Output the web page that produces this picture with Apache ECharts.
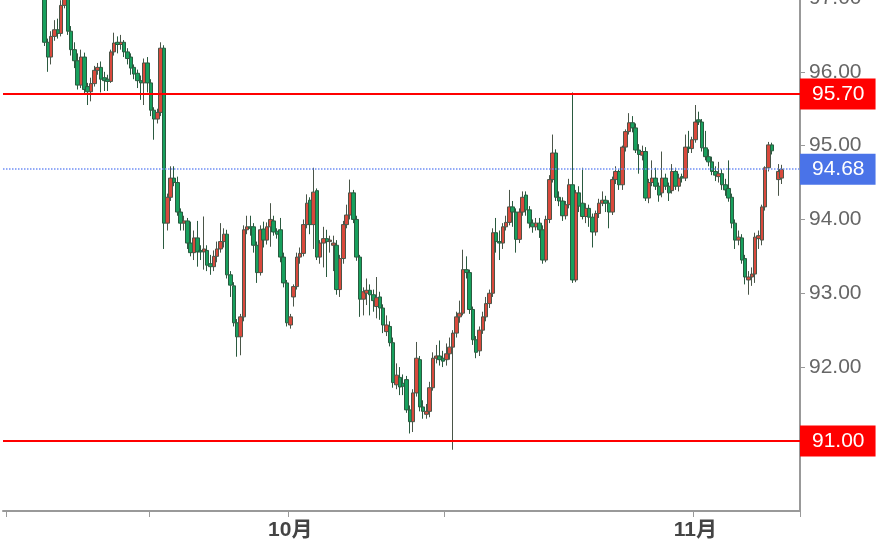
<!DOCTYPE html>
<html><head><meta charset="utf-8">
<script src="https://cdn.jsdelivr.net/npm/echarts@6.0.0/dist/echarts.min.js"></script>
<style>html,body{margin:0;padding:0;background:#fff}#c{width:890px;height:549px}</style>
</head><body><div id="c"></div>
<script>
// ---- data ----
const barCount = 240;
const firstBar = 12;
// [open, high, low, close]
const bars = [
[97.05,97.15,96.35,96.40],[96.40,96.45,96.00,96.20],[96.20,96.55,96.10,96.48],[96.48,96.70,96.42,96.57],
[96.57,96.72,96.45,96.52],[96.52,96.97,96.48,96.90],[96.90,97.10,96.86,97.02],[97.00,97.05,96.50,96.55],
[96.55,96.62,96.22,96.30],[96.30,96.40,96.05,96.15],[96.15,96.25,95.76,95.82],[95.82,96.30,95.78,96.20],
[96.20,96.26,95.70,95.76],[95.80,95.85,95.55,95.73],[95.73,95.92,95.60,95.84],[95.84,96.08,95.80,96.02],
[96.02,96.12,95.96,96.06],[96.06,96.14,95.72,95.90],[95.92,96.00,95.74,95.88],[95.90,95.96,95.74,95.87],
[95.87,96.30,95.85,96.27],[96.27,96.53,96.22,96.39],[96.40,96.48,96.25,96.37],[96.37,96.50,96.30,96.40],
[96.40,96.43,96.20,96.27],[96.27,96.32,96.10,96.18],[96.20,96.25,95.96,96.05],[96.06,96.10,95.90,95.97],
[95.98,96.03,95.78,95.88],[95.88,95.95,95.62,95.85],[95.85,96.18,95.55,96.12],[96.12,96.20,95.72,95.85],
[95.85,95.90,95.40,95.48],[95.48,95.52,95.08,95.36],[95.36,95.50,95.30,95.45],[95.45,96.40,95.40,96.32],
[96.32,96.36,93.60,93.95],[93.95,94.35,93.85,94.30],[94.30,94.72,94.25,94.56],[94.56,94.72,94.45,94.50],
[94.50,94.58,94.05,94.10],[94.10,94.15,93.85,93.95],[93.95,94.05,93.85,93.98],[93.98,94.02,93.60,93.68],
[93.68,93.97,93.50,93.55],[93.55,93.85,93.45,93.75],[93.75,93.98,93.36,93.56],[93.58,93.65,93.45,93.56],
[93.56,94.04,93.32,93.60],[93.58,93.65,93.30,93.38],[93.40,93.52,93.25,93.36],[93.36,93.58,93.30,93.50],
[93.50,93.70,93.42,93.60],[93.60,93.95,93.55,93.70],[93.70,93.88,93.62,93.80],[93.80,93.86,93.20,93.25],
[93.25,93.30,92.95,93.11],[93.10,93.15,92.55,92.60],[92.60,92.65,92.14,92.41],[92.41,92.72,92.16,92.68],
[92.68,93.92,92.62,93.86],[93.86,94.05,93.80,93.90],[93.90,94.05,93.78,93.88],[93.90,93.95,93.55,93.65],
[93.65,93.70,93.14,93.28],[93.28,93.92,93.24,93.86],[93.87,93.97,93.62,93.72],[93.72,93.96,93.66,93.90],
[93.90,94.22,93.63,94.00],[93.98,94.05,93.78,93.83],[93.84,93.88,93.74,93.80],[93.86,94.02,93.42,93.49],
[93.49,93.55,93.08,93.14],[93.14,93.18,92.55,92.60],[92.57,92.72,92.52,92.68],[92.95,93.12,92.82,93.09],
[93.09,93.55,93.05,93.49],[93.49,93.62,93.40,93.54],[93.54,94.00,93.50,93.93],[93.93,94.34,93.88,94.22],
[94.26,94.30,93.80,93.93],[93.93,94.70,93.60,94.37],[94.39,94.42,93.45,93.49],[93.49,93.72,93.40,93.68],
[93.68,93.90,93.35,93.74],[93.74,93.86,93.22,93.70],[93.70,93.78,93.55,93.72],[93.65,93.78,93.30,93.68],
[93.65,93.72,92.98,93.05],[93.05,93.52,92.95,93.47],[93.47,93.98,93.40,93.93],[93.93,94.20,93.88,94.06],
[94.06,94.54,94.00,94.36],[94.36,94.40,93.95,94.00],[94.00,94.05,93.44,93.49],[93.49,93.52,92.68,92.92],
[92.92,93.08,92.70,93.02],[93.00,93.20,92.84,93.04],[93.04,93.12,92.70,92.98],[92.98,93.05,92.75,92.90],
[92.82,93.22,92.66,92.94],[92.95,93.02,92.64,92.80],[92.80,92.85,92.46,92.57],[92.48,92.70,92.42,92.57],
[92.55,92.62,92.28,92.33],[92.33,92.40,91.72,91.79],[91.76,92.05,91.70,91.89],[91.86,92.00,91.62,91.73],
[91.78,91.90,91.62,91.74],[91.83,91.88,91.38,91.42],[91.42,91.48,91.10,91.26],[91.26,91.70,91.12,91.65],
[91.65,92.34,91.60,92.12],[92.10,92.15,91.40,91.46],[91.46,91.55,91.30,91.40],[91.36,91.50,91.30,91.40],
[91.40,91.80,91.32,91.72],[91.72,92.20,91.68,92.12],[92.12,92.30,92.05,92.15],[92.15,92.36,92.02,92.10],
[92.12,92.22,92.00,92.08],[92.10,92.32,92.02,92.18],[92.18,92.40,92.10,92.27],[92.27,92.50,90.88,92.46],
[92.46,92.75,92.40,92.68],[92.68,92.90,92.60,92.73],[92.73,93.59,92.70,93.32],[93.32,93.50,93.20,93.28],
[93.28,93.32,92.72,92.78],[92.78,92.82,92.30,92.37],[92.37,92.42,92.12,92.20],[92.22,92.55,92.15,92.50],
[92.50,92.75,92.45,92.68],[92.68,92.95,92.62,92.86],[92.86,93.05,92.80,93.00],[93.00,93.88,92.95,93.82],
[93.82,94.02,93.55,93.70],[93.70,93.85,93.45,93.68],[93.68,93.95,93.60,93.90],[93.90,94.05,93.85,93.96],
[93.96,94.40,93.92,94.17],[94.17,94.25,93.90,94.10],[94.10,94.15,93.55,93.73],[93.73,94.15,93.68,94.10],
[94.10,94.38,94.05,94.30],[94.33,94.38,94.05,94.13],[94.13,94.18,93.88,93.95],[93.95,94.00,93.82,93.90],
[93.90,94.02,93.85,93.95],[93.95,94.02,93.75,93.86],[93.86,93.92,93.40,93.45],[93.45,94.05,93.42,94.00],
[94.00,94.60,93.95,94.54],[94.54,95.15,94.50,94.90],[94.90,94.95,94.25,94.30],[94.30,94.38,94.18,94.25],
[94.25,94.30,93.98,94.05],[94.05,94.25,94.00,94.20],[94.20,94.55,94.15,94.47],[94.47,95.72,93.14,93.18],
[93.18,94.40,93.15,94.36],[94.36,94.45,94.10,94.18],[94.22,94.70,94.00,94.04],[94.04,94.22,93.95,94.15],
[94.15,94.20,93.90,94.03],[94.03,94.08,93.62,93.83],[93.83,94.12,93.78,94.08],[94.08,94.28,94.02,94.22],
[94.22,94.38,94.18,94.26],[94.26,94.32,94.10,94.22],[94.22,94.26,93.88,94.10],[94.10,94.58,94.06,94.54],
[94.54,94.72,94.48,94.65],[94.65,94.68,94.40,94.47],[94.47,95.00,94.40,94.98],[94.98,95.22,94.92,95.19],
[95.19,95.44,95.15,95.31],[95.31,95.40,95.18,95.24],[95.24,95.30,94.90,94.94],[94.94,95.02,94.62,94.88],
[94.87,95.00,94.80,94.92],[94.92,94.98,94.25,94.29],[94.29,94.55,94.22,94.50],[94.50,94.80,94.45,94.56],
[94.56,94.70,94.40,94.45],[94.45,94.50,94.24,94.33],[94.36,94.92,94.30,94.56],[94.56,94.62,94.40,94.45],
[94.45,94.50,94.25,94.36],[94.39,94.75,94.35,94.65],[94.65,94.70,94.40,94.45],[94.45,94.62,94.38,94.56],
[94.58,94.62,94.50,94.56],[94.56,95.15,94.52,94.98],[94.98,95.20,94.90,94.96],[94.96,95.12,94.90,95.08],
[95.08,95.55,95.04,95.32],[95.35,95.46,95.28,95.32],[95.32,95.36,94.92,94.97],[94.97,95.20,94.80,94.85],
[94.85,94.95,94.72,94.78],[94.78,94.85,94.60,94.65],[94.65,94.72,94.52,94.60],[94.58,94.78,94.50,94.62],
[94.62,94.68,94.40,94.47],[94.47,94.55,94.32,94.40],[94.42,94.80,94.24,94.29],[94.30,94.35,93.88,93.95],
[93.95,94.00,93.60,93.72],[93.72,93.85,93.65,93.76],[93.75,93.80,93.40,93.45],[93.47,93.52,93.12,93.22],
[93.18,93.30,92.98,93.22],[93.22,93.35,93.10,93.26],[93.26,93.82,93.14,93.76],[93.74,93.85,93.60,93.78],
[93.72,94.20,93.65,94.17],[94.17,94.72,94.12,94.70],[94.70,95.05,94.65,95.01],[95.01,95.04,94.88,94.93],
null,
[94.54,94.75,94.32,94.65],[94.56,94.74,94.48,94.68]
];
const yTickValues = [91, 92, 93, 94, 95, 96, 97];
const xTickIndex = [1, 44, 86, 133, 208];
const xTickLabels = {86: '10月', 208: '11月'};
const levelLines = [95.70, 91.00];
const lastPrice = 94.68;

// ---- build ----
const categories = [];
for (let i = 0; i < barCount; i++) categories.push('K' + i);
const seriesData = categories.map((_, i) => {
  const b = bars[i - firstBar];
  if (!b) return '-';
  return [b[0], b[3], b[2], b[1]];
});

const lineLabel = (bg) => ({
  show: true, position: 'end', distance: 0,
  formatter: p => Number(p.value).toFixed(2),
  color: '#fff', fontSize: 21, backgroundColor: bg,
  padding: [6, 11, 4, 12]
});

const chart = echarts.init(document.getElementById('c'));
chart.setOption({
  animation: false,
  textStyle: {fontFamily: 'Liberation Sans, Arial, Noto Sans CJK SC, sans-serif'},
  grid: {left: 3, right: 90, top: -2, bottom: 38, outerBoundsMode: 'none', containLabel: false},
  xAxis: {
    type: 'category', data: categories, boundaryGap: true,
    axisLine: {show: true, lineStyle: {color: '#999', width: 2}},
    axisTick: {show: true, length: 6, interval: (i) => xTickIndex.includes(i), lineStyle: {color: '#999', width: 1}},
    axisLabel: {interval: (i) => (i in xTickLabels), formatter: (v, i) => xTickLabels[i] || '',
      color: '#444', fontSize: 21, fontWeight: 'bold', margin: 9},
    splitLine: {show: false}
  },
  yAxis: {
    type: 'value', position: 'right', min: 90.05, max: 97,
    axisLine: {show: true, lineStyle: {color: '#999', width: 2}},
    axisTick: {show: true, length: 5, customValues: yTickValues, lineStyle: {color: '#999'}},
    axisLabel: {customValues: yTickValues, formatter: v => Number(v).toFixed(2), color: '#666', fontSize: 21, margin: 9},
    splitLine: {show: false}
  },
  series: [{
    type: 'candlestick',
    data: seriesData,
    barWidth: 4,
    itemStyle: {color: '#d9493c', color0: '#17a05d', borderColor: '#4a5548', borderColor0: '#2a5a3f', borderWidth: 1},
    markLine: {
      symbol: ['none', 'none'], silent: true, animation: false,
      data: [
        {yAxis: levelLines[0], lineStyle: {color: '#ff0000', width: 2, type: 'solid'}, label: lineLabel('#ff0000')},
        {yAxis: levelLines[1], lineStyle: {color: '#ff0000', width: 2, type: 'solid'}, label: lineLabel('#ff0000')},
        {yAxis: lastPrice, lineStyle: {color: '#6f8ff5', width: 1.5, type: 'dotted'}, label: lineLabel('#4a73e8')}
      ]
    }
  }]
});
</script>
</body></html>
